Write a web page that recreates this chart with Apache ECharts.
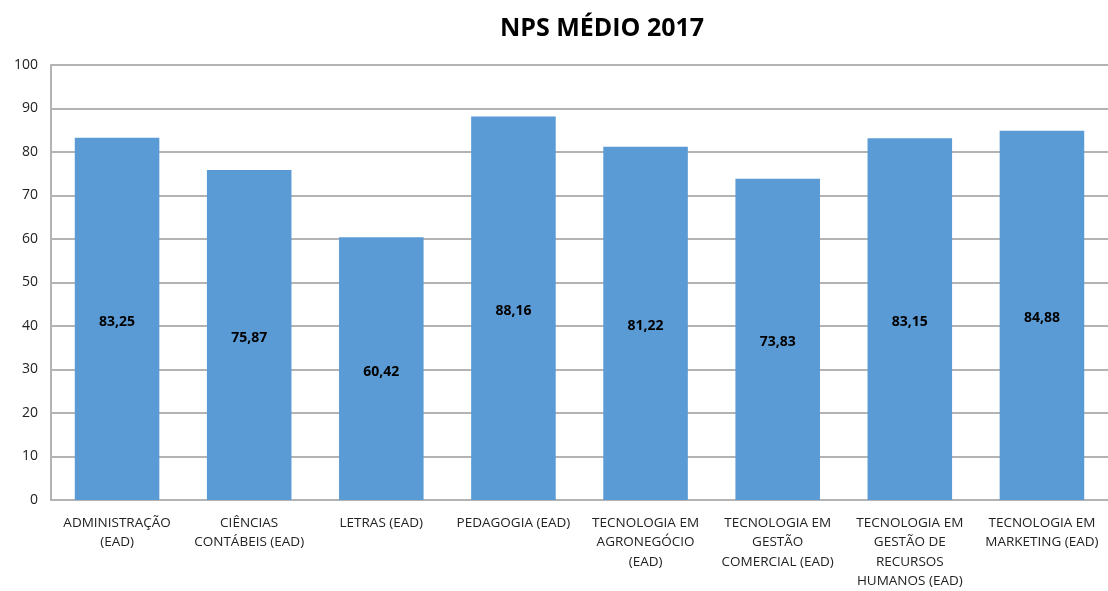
<!DOCTYPE html>
<html><head><meta charset="utf-8">
<script src="https://cdn.jsdelivr.net/npm/echarts@6/dist/echarts.min.js"></script>
<style>html,body{margin:0;padding:0;background:#fff}#c{width:1108px;height:591px}</style>
</head><body><div id="c"></div>
<script>
const categories = [
  "ADMINISTRAÇÃO\n(EAD)",
  "CIÊNCIAS\nCONTÁBEIS (EAD)",
  "LETRAS (EAD)",
  "PEDAGOGIA (EAD)",
  "TECNOLOGIA EM\nAGRONEGÓCIO\n(EAD)",
  "TECNOLOGIA EM\nGESTÃO\nCOMERCIAL (EAD)",
  "TECNOLOGIA EM\nGESTÃO DE\nRECURSOS\nHUMANOS (EAD)",
  "TECNOLOGIA EM\nMARKETING (EAD)"
];
const values = [83.25, 75.87, 60.42, 88.16, 81.22, 73.83, 83.15, 84.88];
const yTicks = [0, 10, 20, 30, 40, 50, 60, 70, 80, 90, 100];

const chart = echarts.init(document.getElementById('c'));
chart.setOption({
  animation: false,
  title: {
    text: 'NPS MÉDIO 2017', left: 597, top: 11, textAlign: 'center',
    textStyle: {fontFamily: 'Open Sans', fontWeight: 'bold', fontSize: 25, color: '#000'}
  },
  grid: {left: 51, right: 0, top: 65, bottom: 90, containLabel: false},
  xAxis: {
    type: 'category', data: categories,
    axisLine: {lineStyle: {color: '#b3b3b3', width: 2}},
    axisTick: {show: false},
    axisLabel: {interval: 0, color: '#222', fontFamily: 'Open Sans', fontSize: 13.5, lineHeight: 19.5, margin: 13}
  },
  yAxis: {
    type: 'value', min: 0, max: 100, interval: 10,
    axisLine: {show: true, lineStyle: {color: '#b3b3b3', width: 2}},
    axisTick: {show: false},
    splitLine: {lineStyle: {color: '#b3b3b3', width: 2}},
    axisLabel: {color: '#222', fontFamily: 'Open Sans', fontSize: 14, margin: 13,
      formatter: v => yTicks.includes(v) ? String(v) : ''}
  },
  series: [{
    type: 'bar', data: values, barWidth: '64%',
    itemStyle: {color: '#5B9BD5'},
    label: {show: true, position: 'inside', offset: [0, 3], color: '#000', fontWeight: 'bold',
      fontFamily: 'Open Sans', fontSize: 14,
      formatter: p => p.value.toFixed(2).replace('.', ',')}
  }]
});
</script></body></html>
